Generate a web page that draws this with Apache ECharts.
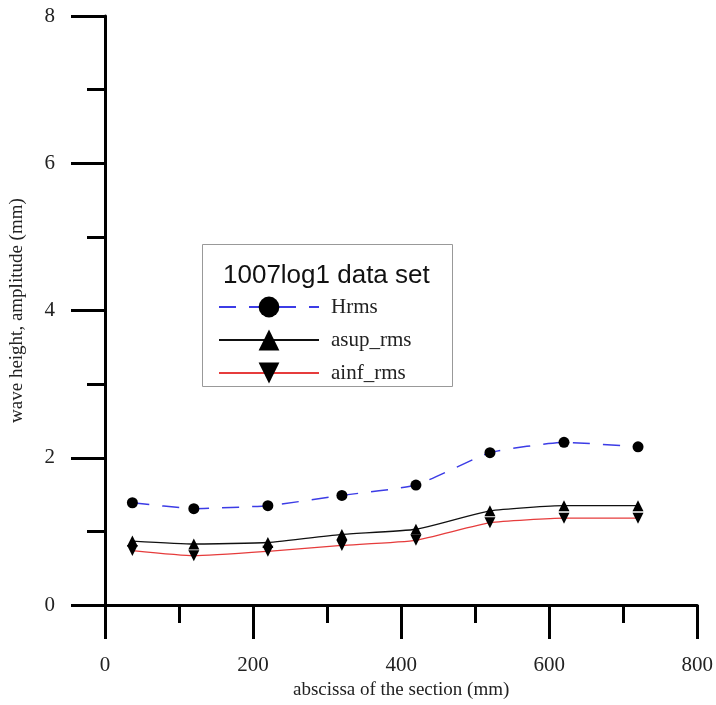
<!DOCTYPE html>
<html>
<head>
<meta charset="utf-8">
<script src="https://cdn.jsdelivr.net/npm/echarts@6/dist/echarts.min.js"></script>
<style>html,body{margin:0;padding:0;background:#fff;}#c{width:716px;height:705px;}</style>
</head>
<body>
<div id="c"></div>
<script>
// Data
var xPos = [37, 120, 220, 320, 420, 520, 620, 720];
var hrms = [1.39, 1.31, 1.35, 1.49, 1.63, 2.07, 2.21, 2.15];
var asupRms = [0.87, 0.83, 0.85, 0.96, 1.03, 1.28, 1.35, 1.35];
var ainfRms = [0.74, 0.67, 0.73, 0.81, 0.88, 1.12, 1.18, 1.18];
var seriesNames = ['Hrms', 'asup_rms', 'ainf_rms'];
var legendTitle = '1007log1 data set';
var xName = 'abscissa of the section (mm)';
var yName = 'wave height, amplitude (mm)';

function pairs(xs, ys) { return xs.map(function (x, i) { return [x, ys[i]]; }); }

var chart = echarts.init(document.getElementById('c'), null, {renderer: 'canvas'});
var serif = 'Liberation Serif';
var axisCommon = {
  axisLine: {show: true, lineStyle: {color: '#000', width: 3}},
  axisTick: {show: true, inside: false, length: 34, lineStyle: {color: '#000', width: 3}},
  minorTick: {show: true, splitNumber: 2, length: 18, lineStyle: {color: '#000', width: 3}},
  splitLine: {show: false},
  axisLabel: {fontFamily: serif, fontSize: 21, color: '#222', margin: 50},
  nameTextStyle: {fontFamily: serif, fontSize: 19, color: '#222'}
};
chart.setOption({
  animation: false,
  backgroundColor: '#fff',
  grid: {left: 105, right: 18, top: 16, bottom: 96, containLabel: false},
  title: {
    text: legendTitle, left: 218, top: 258,
    textStyle: {fontFamily: 'Liberation Sans', fontWeight: 'normal', fontSize: 26, color: '#111'}
  },
  graphic: [{
    type: 'rect', left: 202, top: 244, z: 0,
    shape: {width: 250, height: 142},
    style: {fill: '#fff', stroke: '#999', lineWidth: 1}
  }],
  legend: {
    orient: 'vertical', left: 218, top: 294, padding: 0,
    itemWidth: 100, itemHeight: 26, itemGap: 7,
    data: seriesNames,
    textStyle: {fontFamily: serif, fontSize: 21, color: '#222', padding: [0, 0, 0, 7], height: 26, lineHeight: 26},
    z: 5
  },
  xAxis: Object.assign({}, axisCommon, {
    type: 'value', min: 0, max: 800, interval: 200,
    name: xName, nameLocation: 'middle', nameGap: 73
  }),
  yAxis: Object.assign({}, axisCommon, {
    type: 'value', min: 0, max: 8, interval: 2,
    name: yName, nameLocation: 'middle', nameGap: 78
  }),
  series: [{
    name: seriesNames[0], type: 'line', data: pairs(xPos, hrms), smooth: 0.15,
    symbol: 'circle', symbolSize: 11,
    itemStyle: {color: '#000'},
    lineStyle: {color: '#3c3ce6', width: 1.5, type: [17, 13]}
  }, {
    name: seriesNames[1], type: 'line', data: pairs(xPos, asupRms), smooth: 0.15,
    symbol: 'triangle', symbolSize: [11, 11],
    itemStyle: {color: '#000'},
    lineStyle: {color: '#111', width: 1.3}
  }, {
    name: seriesNames[2], type: 'line', data: pairs(xPos, ainfRms), smooth: 0.15,
    symbol: 'path://M0,0L10,0L5,10Z', symbolSize: [11, 11],
    itemStyle: {color: '#000'},
    lineStyle: {color: '#e63c3c', width: 1.3}
  }]
});
</script>
</body>
</html>
